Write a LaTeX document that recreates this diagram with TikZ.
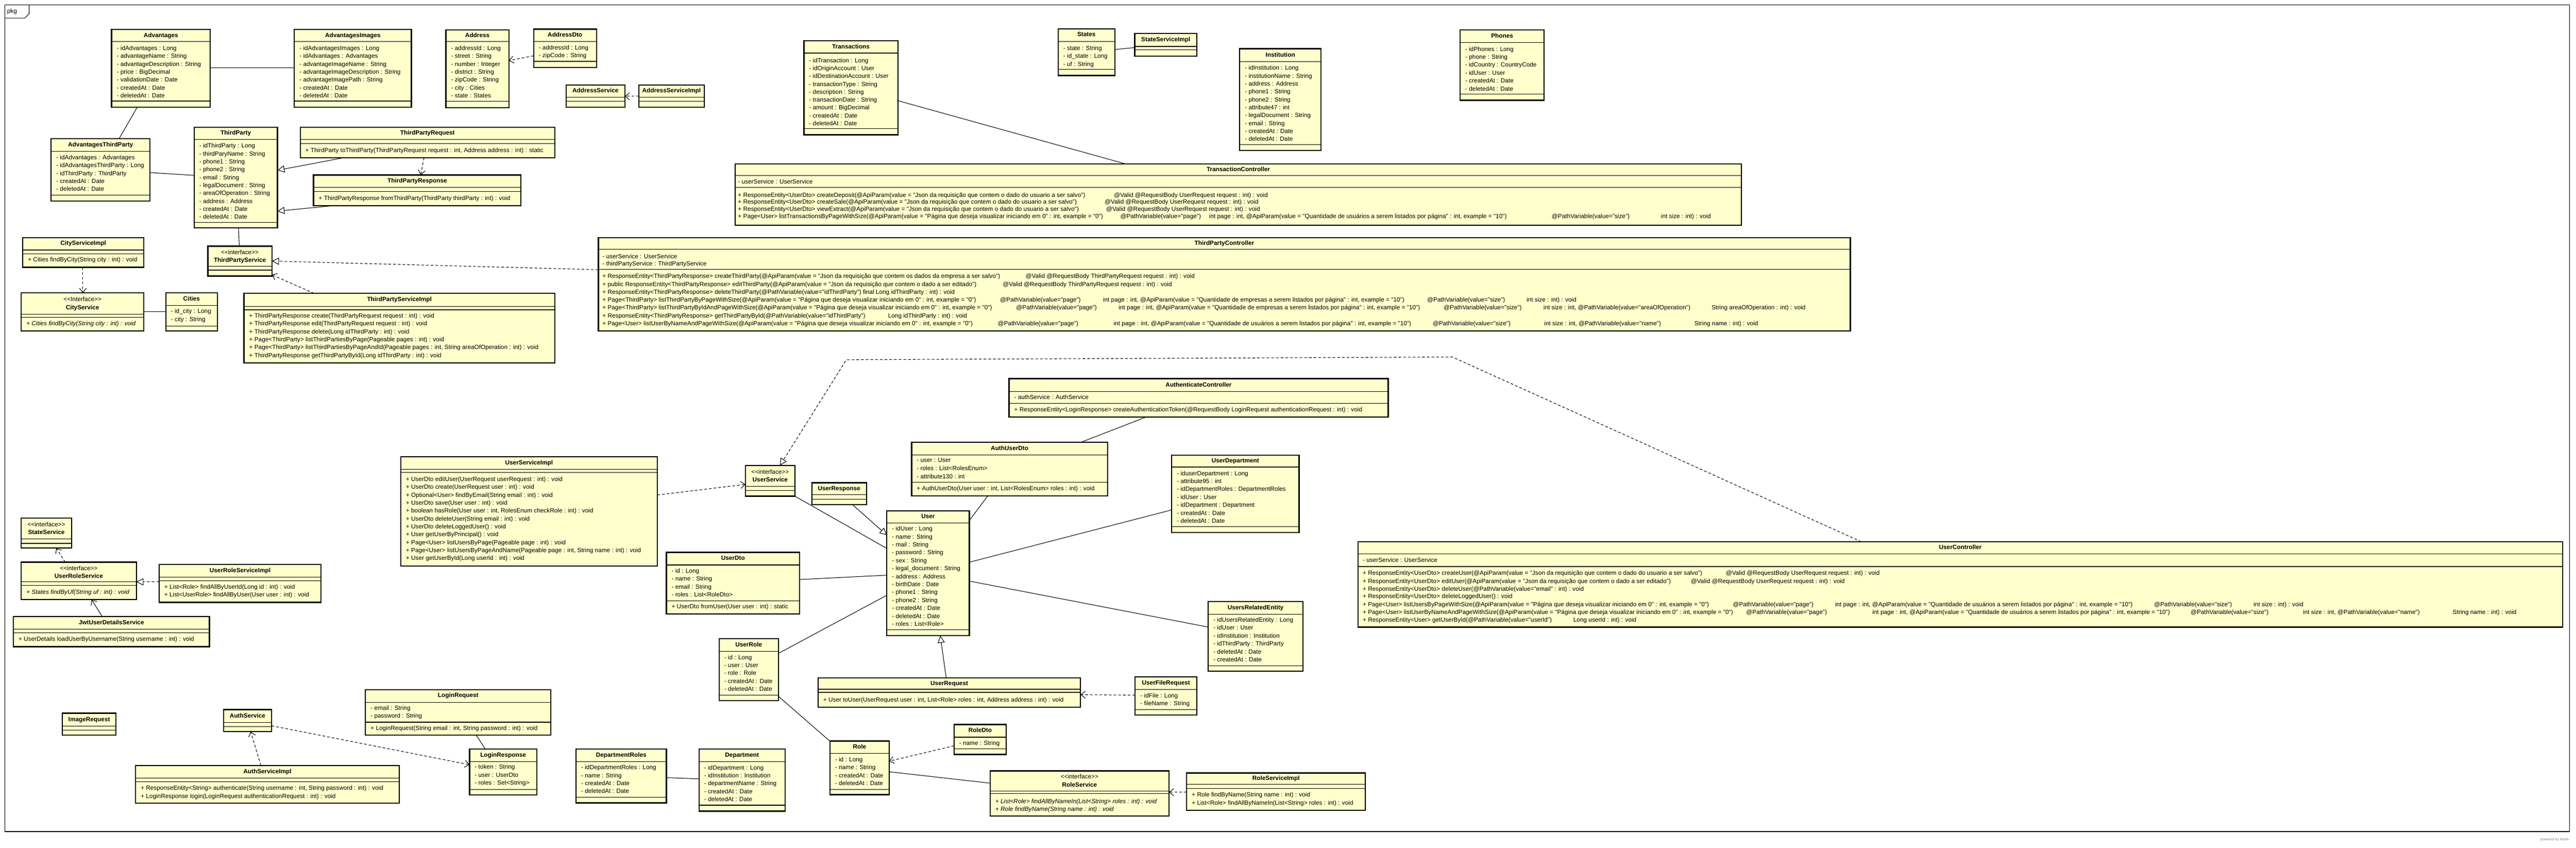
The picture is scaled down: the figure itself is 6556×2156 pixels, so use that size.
\documentclass[tikz,border=0pt]{standalone}
\usepackage{fontspec}
\newfontfamily\umlf{Liberation Sans}
\usetikzlibrary{arrows.meta}
\definecolor{boxfill}{RGB}{255,255,204}
\newcommand\fs{\umlf\fontsize{15.5}{20}\selectfont}
\tikzset{
  umlbox/.style={draw=black,line width=3pt,fill=boxfill,inner sep=0pt,outer sep=0pt,anchor=north west},
  sepline/.style={line width=1.5pt},
  txt/.style={anchor=west,inner sep=0pt,font=\fs,text height=11pt,text depth=3pt},
  itxt/.style={txt,font=\fs\itshape},
  ttl/.style={anchor=center,inner sep=0pt,font=\fs\bfseries,text height=11pt,text depth=3pt},
  ster/.style={anchor=center,inner sep=0pt,font=\fs,text height=11pt,text depth=3pt},
  assoc/.style={line width=1.4pt},
  nav/.style={assoc,-{Straight Barb[length=11pt,width=18pt]}},
  dep/.style={nav,dash pattern=on 7pt off 5pt},
  gen/.style={assoc,-{Triangle[length=18pt,width=18pt,fill=white]}},
  real/.style={gen,dash pattern=on 7pt off 5pt},
}
\newcommand\ubox[5]{\node[umlbox,minimum width={#4-#2},minimum height={#5-#3}] (#1) at (#2,#3) {};}
\newcommand\usep[2]{\draw[sepline] (#1.west |- 0,#2) -- (#1.east |- 0,#2);}
\newcommand\utitle[3]{\node[ttl] (#1-t) at (#1.north |- 0,#2) {#3};}
\newcommand\uster[3]{\node[ster] (#1-s) at (#1.north |- 0,#2) {#3};}
\newcommand\urows[6][txt]{\foreach \tx [count=\ix] in {#6} {\node[#1] (#2-r\ix) at (#3,{#4+(\ix-1)*#5}) {\tx};}}
\begin{document}
\begin{tikzpicture}[x=1pt,y=-1pt]
\useasboundingbox (0,0) rectangle (6556,2156);
\fill[white] (0,0) rectangle (6556,2156);
% frame
\draw[line width=1.5pt] (12,12) rectangle (6540,2115);
\draw[line width=1.5pt] (12,46) -- (63,46) -- (74,35) -- (74,12);
\node[txt] (pkg) at (18,29) {pkg};
\node[anchor=east,inner sep=0pt,font=\umlf\fontsize{9}{10}\selectfont,text=gray] (astah) at (6538,2136) {powered by Astah};

% ---------- top row ----------
\ubox{Advantages}{284}{75}{535}{273}
\utitle{Advantages}{90.5}{Advantages}
\usep{Advantages}{106}\usep{Advantages}{257}
\urows{Advantages}{297}{124}{20.1}{{- idAdvantages : Long},{- advantageName : String},{- advantageDescription : String},{- price : BigDecimal},{- validationDate : Date},{- createdAt : Date},{- deletedAt : Date}}

\ubox{AdvImg}{749}{75}{1047}{273}
\utitle{AdvImg}{90.5}{AdvantagesImages}
\usep{AdvImg}{106}\usep{AdvImg}{257}
\urows{AdvImg}{762}{124}{20.1}{{- idAdvantagesImages : Long},{- idAdvantages : Advantages},{- advantageImageName : String},{- advantageImageDescription : String},{- advantageImagePath : String},{- createdAt : Date},{- deletedAt : Date}}

\ubox{Address}{1135}{76}{1295}{274}
\utitle{Address}{91}{Address}
\usep{Address}{106}\usep{Address}{258}
\urows{Address}{1148}{124}{20.1}{{- addressId : Long},{- street : String},{- number : Integer},{- district : String},{- zipCode : String},{- city : Cities},{- state : States}}

\ubox{AddressDto}{1358}{74}{1518}{172}
\utitle{AddressDto}{89.5}{AddressDto}
\usep{AddressDto}{105}\usep{AddressDto}{156}
\urows{AddressDto}{1371}{123}{19.5}{{- addressId : Long},{- zipCode : String}}

\ubox{AddressService}{1441}{216}{1590}{273}
\utitle{AddressService}{232}{AddressService}
\usep{AddressService}{247}\usep{AddressService}{258}

\ubox{AddressServiceImpl}{1626}{216}{1792}{273}
\utitle{AddressServiceImpl}{232}{AddressServiceImpl}
\usep{AddressServiceImpl}{247}\usep{AddressServiceImpl}{258}

\ubox{AdvTP}{130}{353}{382}{511}
\utitle{AdvTP}{369}{AdvantagesThirdParty}
\usep{AdvTP}{385}\usep{AdvTP}{496}
\urows{AdvTP}{143}{402}{20}{{- idAdvantages : Advantages},{- idAdvantagesThirdParty : Long},{- idThirdParty : ThirdParty},{- createdAt : Date},{- deletedAt : Date}}

\ubox{ThirdParty}{494}{324}{706}{580}
\utitle{ThirdParty}{339.5}{ThirdParty}
\usep{ThirdParty}{355}\usep{ThirdParty}{566}
\urows{ThirdParty}{507}{372}{20.1}{{- idThirdParty : Long},{- thirdParyName : String},{- phone1 : String},{- phone2 : String},{- email : String},{- legalDocument : String},{- areaOfOperation : String},{- address : Address},{- createdAt : Date},{- deletedAt : Date}}

\ubox{TPReq}{764}{324}{1412}{401}
\utitle{TPReq}{339.5}{ThirdPartyRequest}
\usep{TPReq}{355}\usep{TPReq}{365}
\node[txt] (TPReq-m1) at (777,384) {+ ThirdParty toThirdParty(ThirdPartyRequest request : int, Address address : int) : static};

\ubox{TPResp}{798}{445}{1326}{523}
\utitle{TPResp}{461}{ThirdPartyResponse}
\usep{TPResp}{477}\usep{TPResp}{487}
\node[txt] (TPResp-m1) at (811,505) {+ ThirdPartyResponse fromThirdParty(ThirdParty thirdParty : int) : void};

\ubox{Transactions}{2046}{104}{2285}{343}
\utitle{Transactions}{119.5}{Transactions}
\usep{Transactions}{135}\usep{Transactions}{327}
\urows{Transactions}{2059}{155}{20}{{- idTransaction : Long},{- idOriginAccount : User},{- idDestinationAccount : User},{- transactionType : String},{- description : String},{- transactionDate : String},{- amount : BigDecimal},{- createdAt : Date},{- deletedAt : Date}}

\ubox{States}{2693}{73}{2837}{192}
\utitle{States}{89}{States}
\usep{States}{105}\usep{States}{176}
\urows{States}{2706}{124}{20}{{- state : String},{- id\_state : Long},{- uf : String}}

\ubox{StateServiceImpl}{2888}{85}{3046}{143}
\utitle{StateServiceImpl}{101.5}{StateServiceImpl}
\usep{StateServiceImpl}{118}\usep{StateServiceImpl}{127}

\ubox{Institution}{3155}{124}{3362}{383}
\utitle{Institution}{140.5}{Institution}
\usep{Institution}{157}\usep{Institution}{368}
\urows{Institution}{3168}{174}{20.1}{{- idInstitution : Long},{- institutionName : String},{- address : Address},{- phone1 : String},{- phone2 : String},{- attribute47 : int},{- legalDocument : String},{- email : String},{- createdAt : Date},{- deletedAt : Date}}

\ubox{Phones}{3716}{76}{3930}{255}
\utitle{Phones}{92}{Phones}
\usep{Phones}{108}\usep{Phones}{239}
\urows{Phones}{3729}{126}{20.2}{{- idPhones : Long},{- phone : String},{- idCountry : CountryCode},{- idUser : User},{- createdAt : Date},{- deletedAt : Date}}

% ---------- TransactionController ----------
\ubox{TC}{1871}{417}{4432}{573}
\utitle{TC}{432}{TransactionController}
\usep{TC}{447}\usep{TC}{477}
\node[txt] (TC-a1) at (1878,463) {- userService : UserService};
\node[txt] (TC-m1) at (1878,497) {+ ResponseEntity<UserDto> createDeposit(@ApiParam(value = "Json da requisição que contem o dado do usuario a ser salvo")};
\node[txt] (TC-m1b) at (2835,497) {@Valid @RequestBody UserRequest request : int) : void};
\node[txt] (TC-m2) at (1878,515) {+ ResponseEntity<UserDto> createSale(@ApiParam(value = "Json da requisição que contem o dado do usuario a ser salvo")};
\node[txt] (TC-m2b) at (2811,515) {@Valid @RequestBody UserRequest request : int) : void};
\node[txt] (TC-m3) at (1878,533) {+ ResponseEntity<UserDto> viewExtract(@ApiParam(value = "Json da requisição que contem o dado do usuario a ser salvo")};
\node[txt] (TC-m3b) at (2815,533) {@Valid @RequestBody UserRequest request : int) : void};
\node[txt] (TC-m4) at (1878,551) {+ Page<User> listTransactionsByPageWithSize(@ApiParam(value = "Página que deseja visualizar iniciando em 0" : int, example = "0")};
\node[txt] (TC-m4b) at (2851,551) {@PathVariable(value="page")};
\node[txt] (TC-m4c) at (3077,551) {int page : int, @ApiParam(value = "Quantidade de usuários a serem listados por página" : int, example = "10")};
\node[txt] (TC-m4d) at (3949,551) {@PathVariable(value="size")};
\node[txt] (TC-m4e) at (4227,551) {int size : int) : void};

% ---------- ThirdPartyController ----------
\ubox{TPC}{1523}{604}{4709}{842}
\utitle{TPC}{619}{ThirdPartyController}
\usep{TPC}{634}\usep{TPC}{685}
\node[txt] (TPC-a1) at (1533,653) {- userService : UserService};
\node[txt] (TPC-a2) at (1533,672) {- thirdPartyService : ThirdPartyService};
\node[txt] (TPC-m1) at (1533,704) {+ ResponseEntity<ThirdPartyResponse> createThirdParty(@ApiParam(value = "Json da requisição que contem os dados da empresa a ser salvo")};
\node[txt] (TPC-m1b) at (2610,704) {@Valid @RequestBody ThirdPartyRequest request : int) : void};
\node[txt] (TPC-m2) at (1533,724) {+ public ResponseEntity<ThirdPartyResponse> editThirdParty(@ApiParam(value = "Json da requisição que contem o dado a ser editado")};
\node[txt] (TPC-m2b) at (2552,724) {@Valid @RequestBody ThirdPartyRequest request : int) : void};
\node[txt] (TPC-m3) at (1533,744) {+ ResponseEntity<ThirdPartyResponse> deleteThirdParty(@PathVariable(value="idThirdParty") final Long idThirdParty : int) : void};
\node[txt] (TPC-m4) at (1533,764) {+ Page<ThirdParty> listThirdPartyByPageWithSize(@ApiParam(value = "Página que deseja visualizar iniciando em 0" : int, example = "0")};
\node[txt] (TPC-m4b) at (2545,764) {@PathVariable(value="page")};
\node[txt] (TPC-m4c) at (2807,764) {int page : int, @ApiParam(value = "Quantidade de empresas a serem listados por página" : int, example = "10")};
\node[txt] (TPC-m4d) at (3632,764) {@PathVariable(value="size")};
\node[txt] (TPC-m4e) at (3885,764) {int size : int) : void};
\node[txt] (TPC-m5) at (1533,784) {+ Page<ThirdParty> listThirdPartyByIdAndPageWithSize(@ApiParam(value = "Página que deseja visualizar iniciando em 0" : int, example = "0")};
\node[txt] (TPC-m5b) at (2586,784) {@PathVariable(value="page")};
\node[txt] (TPC-m5c) at (2847,784) {int page : int, @ApiParam(value = "Quantidade de empresas a serem listados por página" : int, example = "10")};
\node[txt] (TPC-m5d) at (3674,784) {@PathVariable(value="size")};
\node[txt] (TPC-m5e) at (3928,784) {int size : int, @PathVariable(value="areaOfOperation")};
\node[txt] (TPC-m5f) at (4356,784) {String areaOfOperation : int) : void};
\node[txt] (TPC-m6) at (1533,804) {+ ResponseEntity<ThirdPartyResponse> getThirdPartyById(@PathVariable(value="idThirdParty")};
\node[txt] (TPC-m6b) at (2260,804) {Long idThirdParty : int) : void};
\node[txt] (TPC-m7) at (1533,824) {+ Page<User> listUserByNameAndPageWithSize(@ApiParam(value = "Página que deseja visualizar iniciando em 0" : int, example = "0")};
\node[txt] (TPC-m7b) at (2539,824) {@PathVariable(value="page")};
\node[txt] (TPC-m7c) at (2834,824) {int page : int, @ApiParam(value = "Quantidade de usuários a serem listados por página" : int, example = "10")};
\node[txt] (TPC-m7d) at (3646,824) {@PathVariable(value="size")};
\node[txt] (TPC-m7e) at (3930,824) {int size : int, @PathVariable(value="name")};
\node[txt] (TPC-m7f) at (4312,824) {String name : int) : void};

% ---------- left middle ----------
\ubox{CityServiceImpl}{58}{604}{366}{680}
\utitle{CityServiceImpl}{620}{CityServiceImpl}
\usep{CityServiceImpl}{636}\usep{CityServiceImpl}{646}
\node[txt] (CityServiceImpl-m1) at (71,662) {+ Cities findByCity(String city : int) : void};

\ubox{CityService}{54}{745}{366}{842}
\uster{CityService}{763}{<<Interface>>}
\utitle{CityService}{783}{CityService}
\usep{CityService}{799}\usep{CityService}{807}
\node[itxt] (CityService-m1) at (67,824) {+ Cities findByCity(String city : int) : void};

\ubox{Cities}{422}{745}{553}{842}
\utitle{Cities}{761}{Cities}
\usep{Cities}{777}\usep{Cities}{829}
\urows{Cities}{435}{793}{20}{{- id\_city : Long},{- city : String}}

\ubox{TPS}{529}{626}{692}{702}
\uster{TPS}{643}{<<interface>>}
\utitle{TPS}{663}{ThirdPartyService}
\usep{TPS}{677}\usep{TPS}{687}

\ubox{TPSI}{621}{746}{1412}{923}
\utitle{TPSI}{762.5}{ThirdPartyServiceImpl}
\usep{TPSI}{779}\usep{TPSI}{788}
\urows{TPSI}{634}{804}{20.2}{{+ ThirdPartyResponse create(ThirdPartyRequest request : int) : void},{+ ThirdPartyResponse edit(ThirdPartyRequest request : int) : void},{+ ThirdPartyResponse delete(Long idThirdParty : int) : void},{+ Page<ThirdParty> listThirdPartiesByPage(Pageable pages : int) : void},{+ Page<ThirdParty> listThirdPartiesByPageAndId(Pageable pages : int, String areaOfOperation : int) : void},{+ ThirdPartyResponse getThirdPartyById(Long idThirdParty : int) : void}}

% ---------- AuthenticateController ----------
\ubox{AuthC}{2568}{963}{3533}{1061}
\utitle{AuthC}{979.5}{AuthenticateController}
\usep{AuthC}{996}\usep{AuthC}{1026}
\node[txt] (AuthC-a1) at (2581,1011) {- authService : AuthService};
\node[txt] (AuthC-m1) at (2581,1043) {+ ResponseEntity<LoginResponse> createAuthenticationToken(@RequestBody LoginRequest authenticationRequest : int) : void};

% ---------- user area ----------
\ubox{USI}{1020}{1162}{1673}{1440}
\utitle{USI}{1178}{UserServiceImpl}
\usep{USI}{1194}\usep{USI}{1202}
\urows{USI}{1033}{1220}{20.1}{{+ UserDto editUser(UserRequest userRequest : int) : void},{+ UserDto create(UserRequest user : int) : void},{+ Optional<User> findByEmail(String email : int) : void},{+ UserDto save(User user : int) : void},{+ boolean hasRole(User user : int, RolesEnum checkRole : int) : void},{+ UserDto deleteUser(String email : int) : void},{+ UserDto deleteLoggedUser() : void},{+ User getUserByPrincipal() : void},{+ Page<User> listUsersByPage(Pageable page : int) : void},{+ Page<User> listUsersByPageAndName(Pageable page : int, String name : int) : void},{+ User getUserById(Long userId : int) : void}}

\ubox{UserService}{1897}{1184}{2023}{1262}
\uster{UserService}{1202}{<<interface>>}
\utitle{UserService}{1221}{UserService}
\usep{UserService}{1237}\usep{UserService}{1248}

\ubox{UserResponse}{2066}{1228}{2205}{1284}
\utitle{UserResponse}{1243}{UserResponse}
\usep{UserResponse}{1258}\usep{UserResponse}{1270}

\ubox{AuthUserDto}{2320}{1125}{2819}{1261}
\utitle{AuthUserDto}{1141}{AuthUserDto}
\usep{AuthUserDto}{1157}\usep{AuthUserDto}{1227}
\urows{AuthUserDto}{2333}{1172}{20.5}{{- user : User},{- roles : List<RolesEnum>},{- attribute130 : int}}
\node[txt] (AuthUserDto-m1) at (2333,1243) {+ AuthUserDto(User user : int, List<RolesEnum> roles : int) : void};

\ubox{User}{2257}{1299}{2467}{1617}
\utitle{User}{1314.5}{User}
\usep{User}{1330}\usep{User}{1602}
\urows{User}{2270}{1346}{20.2}{{- idUser : Long},{- name : String},{- mail : String},{- password : String},{- sex : String},{- legal\_document : String},{- address : Address},{- birthDate : Date},{- phone1 : String},{- phone2 : String},{- createdAt : Date},{- deletedAt : Date},{- roles : List<Role>}}

\ubox{UserDepartment}{2982}{1158}{3306}{1354}
\utitle{UserDepartment}{1173}{UserDepartment}
\usep{UserDepartment}{1188}\usep{UserDepartment}{1339}
\urows{UserDepartment}{2995}{1205}{20.2}{{- iduserDepartment : Long},{- attribute95 : int},{- idDepartmentRoles : DepartmentRoles},{- idUser : User},{- idDepartment : Department},{- createdAt : Date},{- deletedAt : Date}}

\ubox{URE}{3075}{1530}{3316}{1707}
\utitle{URE}{1546}{UsersRelatedEntity}
\usep{URE}{1562}\usep{URE}{1693}
\urows{URE}{3088}{1578}{20.2}{{- idUsersRelatedEntity : Long},{- idUser : User},{- idInstitution : Institution},{- idThirdParty : ThirdParty},{- deletedAt : Date},{- createdAt : Date}}

\ubox{UserDto}{1696}{1405}{2035}{1562}
\utitle{UserDto}{1421}{UserDto}
\usep{UserDto}{1437}\usep{UserDto}{1528}
\urows{UserDto}{1709}{1453}{20.2}{{- id : Long},{- name : String},{- email : String},{- roles : List<RoleDto>}}
\node[txt] (UserDto-m1) at (1709,1544) {+ UserDto fromUser(User user : int) : static};

\ubox{UserRole}{1830}{1625}{1981}{1782}
\utitle{UserRole}{1641}{UserRole}
\usep{UserRole}{1657}\usep{UserRole}{1768}
\urows{UserRole}{1843}{1673}{20.2}{{- id : Long},{- user : User},{- role : Role},{- createdAt : Date},{- deletedAt : Date}}

\ubox{UserRequest}{2082}{1724}{2750}{1799}
\utitle{UserRequest}{1739}{UserRequest}
\usep{UserRequest}{1753}\usep{UserRequest}{1761}
\node[txt] (UserRequest-m1) at (2095,1781) {+ User toUser(UserRequest user : int, List<Role> roles : int, Address address : int) : void};

\ubox{UFR}{2889}{1722}{3046}{1819}
\utitle{UFR}{1738}{UserFileRequest}
\usep{UFR}{1754}\usep{UFR}{1805}
\urows{UFR}{2902}{1771}{20}{{- idFile : Long},{- fileName : String}}

\ubox{RoleDto}{2428}{1843}{2561}{1919}
\utitle{RoleDto}{1859}{RoleDto}
\usep{RoleDto}{1875}\usep{RoleDto}{1905}
\node[txt] (RoleDto-r1) at (2441,1891) {- name : String};

\ubox{Role}{2112}{1885}{2263}{2021}
\utitle{Role}{1900.5}{Role}
\usep{Role}{1916}\usep{Role}{2008}
\urows{Role}{2125}{1933}{20.3}{{- id : Long},{- name : String},{- createdAt : Date},{- deletedAt : Date}}

\ubox{RoleService}{2520}{1961}{2975}{2076}
\uster{RoleService}{1977}{<<interface>>}
\utitle{RoleService}{1997}{RoleService}
\usep{RoleService}{2012}\usep{RoleService}{2019}
\urows[itxt]{RoleService}{2533}{2039}{20}{{+ List<Role> findAllByNameIn(List<String> roles : int) : void},{+ Role findByName(String name : int) : void}}

\ubox{RSI}{3020}{1966}{3475}{2061}
\utitle{RSI}{1980.5}{RoleServiceImpl}
\usep{RSI}{1995}\usep{RSI}{2006}
\urows{RSI}{3033}{2023}{20}{{+ Role findByName(String name : int) : void},{+ List<Role> findAllByNameIn(List<String> roles : int) : void}}

\ubox{Department}{1779}{1905}{1998}{2063}
\utitle{Department}{1921}{Department}
\usep{Department}{1937}\usep{Department}{2048}
\urows{Department}{1792}{1954}{20}{{- idDepartment : Long},{- idInstitution : Institution},{- departmentName : String},{- createdAt : Date},{- deletedAt : Date}}

\ubox{DepRoles}{1466}{1905}{1696}{2042}
\utitle{DepRoles}{1921}{DepartmentRoles}
\usep{DepRoles}{1937}\usep{DepRoles}{2028}
\urows{DepRoles}{1479}{1953}{20.3}{{- idDepartmentRoles : Long},{- name : String},{- createdAt : Date},{- deletedAt : Date}}

% ---------- left bottom ----------
\ubox{StateService}{54}{1318}{182}{1394}
\uster{StateService}{1335}{<<interface>>}
\utitle{StateService}{1355}{StateService}
\usep{StateService}{1371}\usep{StateService}{1382}

\ubox{URS}{54}{1430}{347}{1525}
\uster{URS}{1447}{<<interface>>}
\utitle{URS}{1466}{UserRoleService}
\usep{URS}{1480}\usep{URS}{1489}
\node[itxt] (URS-m1) at (67,1507) {+ States findByUf(String uf : int) : void};

\ubox{URSI}{405}{1436}{817}{1532}
\utitle{URSI}{1452}{UserRoleServiceImpl}
\usep{URSI}{1468}\usep{URSI}{1477}
\urows{URSI}{418}{1494}{20}{{+ List<Role> findAllByUserId(Long id : int) : void},{+ List<UserRole> findAllByUser(User user : int) : void}}

\ubox{Jwt}{34}{1568}{533}{1645}
\utitle{Jwt}{1584}{JwtUserDetailsService}
\usep{Jwt}{1600}\usep{Jwt}{1610}
\node[txt] (Jwt-m1) at (47,1627) {+ UserDetails loadUserByUsername(String username : int) : void};

\ubox{ImageRequest}{159}{1814}{295}{1870}
\utitle{ImageRequest}{1830.5}{ImageRequest}
\usep{ImageRequest}{1847}\usep{ImageRequest}{1857}

\ubox{AuthService}{569}{1805}{691}{1861}
\utitle{AuthService}{1821.5}{AuthService}
\usep{AuthService}{1838}\usep{AuthService}{1848}

\ubox{ASI}{345}{1947}{1016}{2043}
\utitle{ASI}{1963}{AuthServiceImpl}
\usep{ASI}{1979}\usep{ASI}{1988}
\urows{ASI}{358}{2005}{21}{{+ ResponseEntity<String> authenticate(String username : int, String password : int) : void},{+ LoginResponse login(LoginRequest authenticationRequest : int) : void}}

\ubox{LoginRequest}{930}{1754}{1402}{1870}
\utitle{LoginRequest}{1770}{LoginRequest}
\usep{LoginRequest}{1786}\usep{LoginRequest}{1837}
\urows{LoginRequest}{943}{1802}{20}{{- email : String},{- password : String}}
\node[txt] (LoginRequest-m1) at (943,1853) {+ LoginRequest(String email : int, String password : int) : void};

\ubox{LoginResponse}{1195}{1905}{1366}{2022}
\utitle{LoginResponse}{1921}{LoginResponse}
\usep{LoginResponse}{1937}\usep{LoginResponse}{2008}
\urows{LoginResponse}{1208}{1952}{20}{{- token : String},{- user : UserDto},{- roles : Set<String>}}

% ---------- UserController ----------
\ubox{UC}{3456}{1378}{6522}{1595}
\utitle{UC}{1393.5}{UserController}
\usep{UC}{1409}\usep{UC}{1441}
\node[txt] (UC-a1) at (3468,1426) {- userService : UserService};
\node[txt] (UC-m1) at (3468,1459) {+ ResponseEntity<UserDto> createUser(@ApiParam(value = "Json da requisição que contem o dado do usuario a ser salvo")};
\node[txt] (UC-m1b) at (4392,1459) {@Valid @RequestBody UserRequest request : int) : void};
\node[txt] (UC-m2) at (3468,1479) {+ ResponseEntity<UserDto> editUser(@ApiParam(value = "Json da requisição que contem o dado a ser editado")};
\node[txt] (UC-m2b) at (4303,1479) {@Valid @RequestBody UserRequest request : int) : void};
\node[txt] (UC-m3) at (3468,1499) {+ ResponseEntity<UserDto> deleteUser(@PathVariable(value="email" : int) : void};
\node[txt] (UC-m4) at (3468,1518) {+ ResponseEntity<UserDto> deleteLoggedUser() : void};
\node[txt] (UC-m5) at (3468,1538) {+ Page<User> listUsersByPageWithSize(@ApiParam(value = "Página que deseja visualizar iniciando em 0" : int, example = "0")};
\node[txt] (UC-m5b) at (4410,1538) {@PathVariable(value="page")};
\node[txt] (UC-m5c) at (4670,1538) {int page : int, @ApiParam(value = "Quantidade de usuários a serem listados por página" : int, example = "10")};
\node[txt] (UC-m5d) at (5482,1538) {@PathVariable(value="size")};
\node[txt] (UC-m5e) at (5735,1538) {int size : int) : void};
\node[txt] (UC-m6) at (3468,1558) {+ Page<User> listUserByNameAndPageWithSize(@ApiParam(value = "Página que deseja visualizar iniciando em 0" : int, example = "0")};
\node[txt] (UC-m6b) at (4444,1558) {@PathVariable(value="page")};
\node[txt] (UC-m6c) at (4765,1558) {int page : int, @ApiParam(value = "Quantidade de usuários a serem listados por página" : int, example = "10")};
\node[txt] (UC-m6d) at (5575,1558) {@PathVariable(value="size")};
\node[txt] (UC-m6e) at (5861,1558) {int size : int, @PathVariable(value="name")};
\node[txt] (UC-m6f) at (6242,1558) {String name : int) : void};
\node[txt] (UC-m7) at (3468,1578) {+ ResponseEntity<User> getUserById(@PathVariable(value="userId")};
\node[txt] (UC-m7b) at (4004,1578) {Long userId : int) : void};

% ---------- connectors ----------
\draw[assoc] (Advantages.east |- 0,173) -- (AdvImg.west |- 0,173);
\draw[assoc] (349,0 |- Advantages.south) -- (303,0 |- AdvTP.north);
\draw[assoc] (AdvTP.east |- 0,439) -- (ThirdParty.west |- 0,446);
\draw[dep] (AddressDto.west |- 0,142) -- (Address.east |- 0,154);
\draw[dep] (AddressServiceImpl.west |- 0,245) -- (AddressService.east |- 0,245);
\draw[gen] (876,0 |- TPReq.south) -- (ThirdParty.east |- 0,433);
\draw[gen] (850,0 |- TPResp.south) -- (ThirdParty.east |- 0,537);
\draw[dep] (1079,0 |- TPReq.south) -- (1071,0 |- TPResp.north);
\draw[assoc] (607,0 |- ThirdParty.south) -- (609,0 |- TPS.north);
\draw[dep] (211,0 |- CityServiceImpl.south) -- (211,0 |- CityService.north);
\draw[assoc] (CityService.east |- 0,793) -- (Cities.west |- 0,793);
\draw[dep] (799,0 |- TPSI.north) -- (TPS.east |- 0,699);
\draw[real] (TPC.west |- 0,686) -- (TPS.east |- 0,664);
\draw[assoc] (States.east |- 0,126) -- (StateServiceImpl.west |- 0,121);
\draw[assoc] (Transactions.east |- 0,256) -- (2865,0 |- TC.north);
\draw[dep] (166,0 |- URS.north) -- (143,0 |- StateService.south);
\draw[real] (URSI.west |- 0,1480) -- (URS.east |- 0,1480);
\draw[nav] (260,0 |- Jwt.north) -- (233,0 |- URS.south);
\draw[dep] (664,0 |- ASI.north) -- (638,0 |- AuthService.south);
\draw[dep] (AuthService.east |- 0,1846) -- (LoginResponse.west |- 0,1945);
\draw[assoc] (1212,0 |- LoginRequest.south) -- (1235,0 |- LoginResponse.north);
\draw[assoc] (DepRoles.east |- 0,1978) -- (Department.west |- 0,1981);
\draw[dep] (USI.east |- 0,1259) -- (UserService.west |- 0,1232);
\coordinate (ucb1) at (3696,908);
\coordinate (ucb2) at (2154,915);
\draw[real] (4737,0 |- UC.north) -- (ucb1) -- (ucb2) -- (1985,0 |- UserService.north);
\draw[gen] (2170,0 |- UserResponse.south) -- (User.west |- 0,1361);
\draw[assoc] (UserService.south east) -- (User.west |- 0,1395);
\draw[assoc] (2514,0 |- AuthUserDto.south) -- (User.east |- 0,1324);
\draw[assoc] (2916,0 |- AuthC.south) -- (2751,0 |- AuthUserDto.north);
\draw[assoc] (User.east |- 0,1430) -- (UserDepartment.west |- 0,1297);
\draw[assoc] (User.east |- 0,1478) -- (URE.west |- 0,1595);
\draw[assoc] (UserDto.east |- 0,1474) -- (User.west |- 0,1463);
\draw[assoc] (UserRole.east |- 0,1662) -- (User.west |- 0,1514);
\draw[assoc] (UserRole.east |- 0,1771) -- (Role.north west);
\draw[gen] (2408,0 |- UserRequest.north) -- (2393,0 |- User.south);
\draw[dep] (UFR.west |- 0,1768) -- (UserRequest.east |- 0,1767);
\draw[dep] (RoleDto.west |- 0,1897) -- (Role.east |- 0,1936);
\draw[assoc] (Role.east |- 0,1963) -- (RoleService.west |- 0,1992);
\draw[dep] (RSI.west |- 0,2015) -- (RoleService.east |- 0,2015);
\end{tikzpicture}
\end{document}
